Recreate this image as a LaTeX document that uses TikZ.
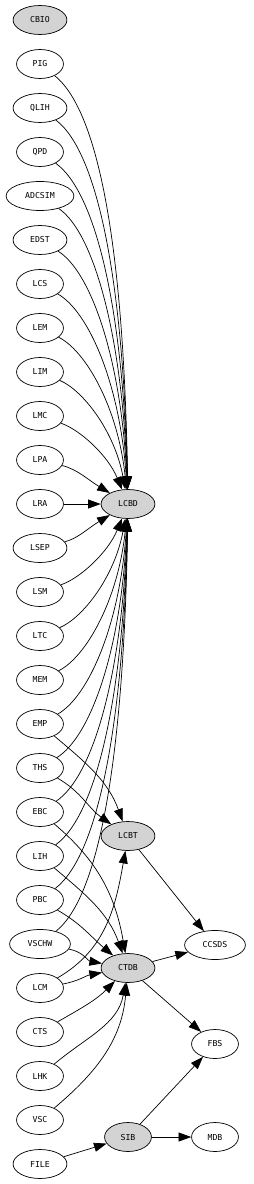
\documentclass[tikz,border=0pt]{standalone}
\usepackage{fontspec}
\setmonofont{DejaVu Sans Mono}
\usepackage{tikz}
\usetikzlibrary{
    arrows.meta,
    shapes.geometric
}
\definecolor{hubgrey}{HTML}{D3D3D3}

\begin{document}
\begin{tikzpicture}[x=0.3mm, y=-0.3mm,
    mod/.style={draw, ellipse, line width=0.6pt, inner xsep=2.75mm, inner ysep=0.5mm,
        minimum height=8.7mm, font=\ttfamily\fontsize{7}{8}\selectfont},
    hub/.style={mod, fill=hubgrey},
    dep/.style={line width=0.6pt, -{Triangle[length=3.8mm, width=2.7mm]}}
]
\useasboundingbox (0,0) rectangle (253,1184);

% Left column
\node[hub] (CBIO) at (40,20) {CBIO};
\foreach \name [count=\i] in {PIG,QLIH,QPD,ADCSIM,EDST,LCS,LEM,LIM,LMC,LPA,LRA,
    LSEP,LSM,LTC,MEM,EMP,THS,EBC,LIH,PBC,VSCHW,LCM,CTS,LHK,VSC,FILE}
    \node[mod] (\name) at (40,{20+44*\i}) {\name};

% Middle column
\node[hub] (LCBD) at (128,504) {LCBD};
\node[hub] (LCBT) at (128,836) {LCBT};
\node[hub] (CTDB) at (128,968) {CTDB};
\node[hub] (SIB) at (128,1137) {SIB};

% Right column
\node[mod] (CCSDS) at (215,945) {CCSDS};
\node[mod] (FBS) at (215,1044) {FBS};
\node[mod] (MDB) at (215,1137) {MDB};

% Into LCBD from above
\foreach \src [count=\i] in {PIG,QLIH,QPD,ADCSIM,EDST,LCS,LEM,LIM,LMC,LPA} {
    \pgfmathsetmacro\ys{20+44*\i}
    \pgfmathsetmacro\dist{504-\ys}
    \draw[dep] (\src) .. controls ({75+0.06*\dist},{\ys+5+0.1*\dist})
        and ({128-1760/\dist},{504-0.55*\dist}) .. (LCBD);
}
\draw[dep] (LRA) -- (LCBD);

% Into LCBD from below
\foreach \src [count=\i] in {LSEP,LSM,LTC,MEM,EMP,THS,EBC,LIH,PBC,VSCHW} {
    \pgfmathsetmacro\ys{504+44*\i}
    \pgfmathsetmacro\dist{\ys-504}
    \draw[dep] (\src) .. controls ({75+0.06*\dist},{\ys-5-0.1*\dist})
        and ({128-1760/\dist},{504+0.55*\dist}) .. (LCBD);
}

% Into LCBT
\draw[dep] (EMP) to[out=-40, in=110] (LCBT);
\draw[dep] (THS) to[out=-30, in=145] (LCBT);
\draw[dep] (LCM) to[out=30, in=-100] (LCBT);

% Into CTDB
\draw[dep] (EBC) to[out=-40, in=100] (CTDB);
\draw[dep] (LIH) to[out=-40, in=110] (CTDB);
\draw[dep] (PBC) to[out=-30, in=140] (CTDB);
\draw[dep] (VSCHW) to[out=-10, in=170] (CTDB);
\draw[dep] (LCM) to[out=10, in=190] (CTDB);
\draw[dep] (CTS) to[out=30, in=-135] (CTDB);
\draw[dep] (LHK) to[out=40, in=-100] (CTDB);
\draw[dep] (VSC) to[out=40, in=-95] (CTDB);

% Right side
\draw[dep] (LCBT) -- (CCSDS);
\draw[dep] (CTDB) -- (CCSDS);
\draw[dep] (CTDB) -- (FBS);
\draw[dep] (SIB) -- (FBS);
\draw[dep] (SIB) -- (MDB);
\draw[dep] (FILE) -- (SIB);

\end{tikzpicture}
\end{document}
